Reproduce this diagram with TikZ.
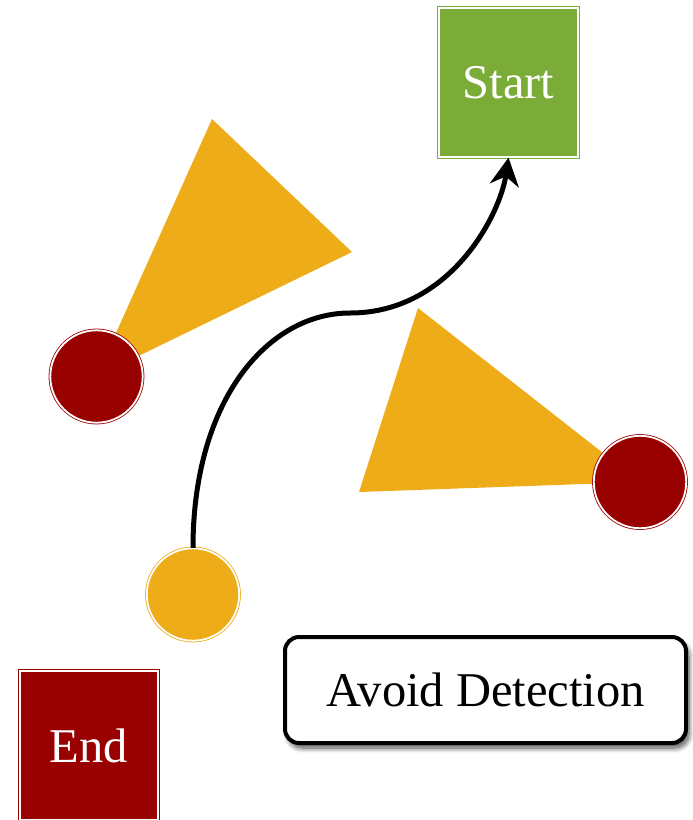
\documentclass[tikz,border=0pt]{standalone}
\usepackage{fontspec}
\setmainfont{Liberation Serif}
\usetikzlibrary{arrows.meta,shadows.blur}
\definecolor{gorange}{RGB}{238,172,25}
\definecolor{ggreen}{RGB}{122,172,55}
\definecolor{gred}{RGB}{153,0,0}
\tikzset{
  dblshape/.style={draw=#1, fill=#1, double=white, double distance=1.8pt, line width=0.8pt, inner sep=0pt},
  guard/.style={dblshape=gred, circle, minimum size=92.4pt},
  cone/.style={fill=gorange},
  squarebox/.style={dblshape=#1, rectangle, text=white, font=\fontsize{48.5}{52}\selectfont},
  labelbox/.style={draw=black, fill=white, line width=4pt, rounded corners=14pt, minimum width=401pt, minimum height=106pt, font=\fontsize{48.5}{52}\selectfont, blur shadow={shadow xshift=3pt, shadow yshift=-5pt, shadow blur steps=10, shadow blur radius=5pt, shadow opacity=70}},
  path/.style={line width=5pt, -{Stealth[length=28pt,width=29pt,inset=9pt]}}
}
\begin{document}
\begin{tikzpicture}[x=1pt,y=-1pt]
\useasboundingbox (0,0) rectangle (693,820);
\coordinate (c1) at (96.5,376.5);
\coordinate (c2) at (640,482);
\fill[cone] (c1) -- (212,119) -- (352,252) -- cycle;
\fill[cone] (c2) -- (418,308) -- (359,492) -- cycle;
\node[guard] (g1) at (c1) {};
\node[guard] (g2) at (c2) {};
\node[dblshape=gorange, circle, minimum size=92.4pt] (me) at (193,594.5) {};
\node[squarebox=ggreen, minimum width=139.4pt, minimum height=149.4pt] (start) at (508.5,82.5) {Start};
\node[squarebox=gred, minimum width=138.4pt, minimum height=149.4pt] (end) at (89,745.5) {End};
\node[labelbox] (avoid) at (485.5,690) {Avoid Detection};
\coordinate (mid) at (350,313);
\draw[path] (me.north) .. controls (193,400) and (268,313) .. (mid)
  .. controls (450,313) and (500,215) .. (start.south);
\end{tikzpicture}
\end{document}
